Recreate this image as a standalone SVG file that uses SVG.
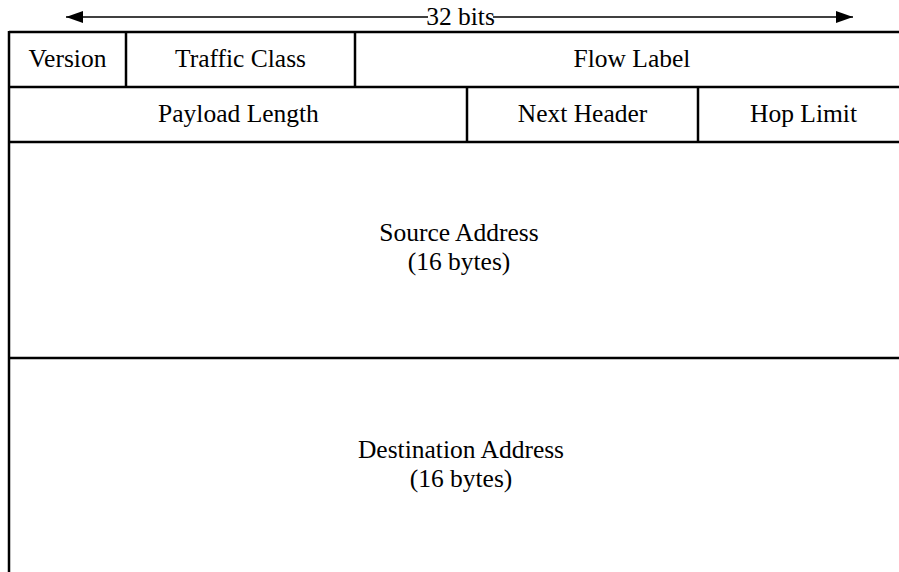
<svg xmlns="http://www.w3.org/2000/svg" width="899" height="572" viewBox="0 0 899 572">
<style>
  .t { font-family: "Liberation Serif", "Times New Roman", serif; font-size: 25.5px; fill: #000; text-anchor: middle; }
  .ln { stroke: #000; stroke-width: 2.5; fill: none; }
  .ar { stroke: #000; stroke-width: 1.3; fill: none; }
</style>
<defs>
  <marker id="ah" viewBox="0 0 17 12" refX="17" refY="6" markerUnits="userSpaceOnUse" markerWidth="17" markerHeight="12" orient="auto-start-reverse">
    <path d="M0,0 L17,6 L0,12 Z" fill="#000"/>
  </marker>
</defs>
<rect width="899" height="572" fill="#fff"/>
<g id="connectors">
  <line class="ar" x1="66" y1="17" x2="428" y2="17" marker-start="url(#ah)"/>
  <line class="ar" x1="493" y1="17" x2="853" y2="17" marker-end="url(#ah)"/>
</g>
<g id="width-label">
  <text class="t" x="460.5" y="25">32 bits</text>
</g>
<g id="frame">
  <line class="ln" x1="9" y1="32" x2="899" y2="32"/>
  <line class="ln" x1="9" y1="87" x2="899" y2="87"/>
  <line class="ln" x1="9" y1="142" x2="899" y2="142"/>
  <line class="ln" x1="9" y1="358" x2="899" y2="358"/>
  <line class="ln" x1="9" y1="31" x2="9" y2="572"/>
  <line class="ln" x1="126" y1="32" x2="126" y2="87"/>
  <line class="ln" x1="355" y1="32" x2="355" y2="87"/>
  <line class="ln" x1="467" y1="87" x2="467" y2="142"/>
  <line class="ln" x1="698" y1="87" x2="698" y2="142"/>
</g>
<g id="version"><text class="t" x="67.5" y="67">Version</text></g>
<g id="traffic-class"><text class="t" x="240.5" y="67">Traffic Class</text></g>
<g id="flow-label"><text class="t" x="632" y="67">Flow Label</text></g>
<g id="payload-length"><text class="t" x="238.5" y="122">Payload Length</text></g>
<g id="next-header"><text class="t" x="582.5" y="122">Next Header</text></g>
<g id="hop-limit"><text class="t" x="803.5" y="122">Hop Limit</text></g>
<g id="source-address">
  <text class="t" x="459" y="241">Source Address</text>
  <text class="t" x="459" y="270">(16 bytes)</text>
</g>
<g id="destination-address">
  <text class="t" x="461" y="458">Destination Address</text>
  <text class="t" x="461" y="487">(16 bytes)</text>
</g>
</svg>
